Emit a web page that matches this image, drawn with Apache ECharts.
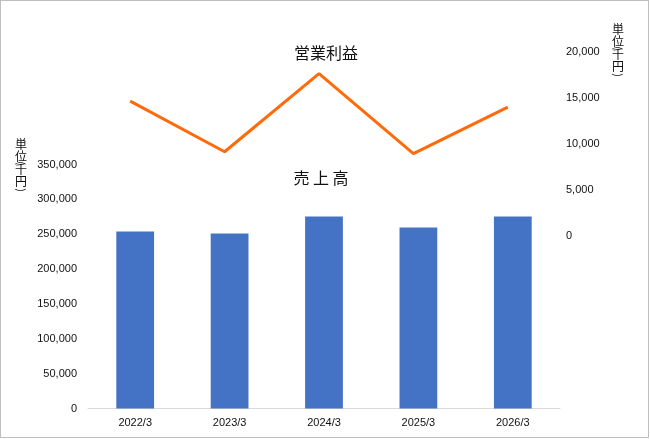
<!DOCTYPE html>
<html>
<head>
<meta charset="utf-8">
<script src="https://cdn.jsdelivr.net/npm/echarts@6/dist/echarts.min.js"></script>
<style>
html,body{margin:0;padding:0;background:#fff;}
#c{width:647px;height:436px;border:1px solid #bfbfbf;}
</style>
</head>
<body>
<div id="c"></div>
<script>
var categories = ['2022/3', '2023/3', '2024/3', '2025/3', '2026/3'];
var salesValues = [254000, 251000, 275500, 259500, 275500];
var profitValues = [14600, 9100, 17600, 8900, 13950];
var salesTicks = {min: 0, max: 350000, interval: 50000};
var profitTicks = {min: 0, max: 20000, interval: 5000};
var unitLabel = ['単', '位', '(', '千', '円', ')'];

var labelFont = {fontFamily: 'Liberation Sans, Arial, sans-serif', fontSize: 11, color: '#111'};
var cjk = 'Noto Sans CJK JP, sans-serif';
function fmt(v){ return v.toLocaleString('en-US'); }

// vertical unit label: offsets of each glyph centre from first glyph centre
var glyphOffsets = [0, 12, 19, 25, 37, 46];
function verticalUnit(cx, cy0) {
  return unitLabel.map(function (ch, i) {
    var isParen = (ch === '(' || ch === ')');
    return {
      type: 'text', x: cx, y: cy0 + glyphOffsets[i],
      rotation: isParen ? -Math.PI / 2 : 0,
      style: {text: ch, x: 0, y: 0, align: 'center', verticalAlign: 'middle',
              font: (isParen ? '11px ' : '12px ') + cjk, fill: '#111'}
    };
  });
}

var chart = echarts.init(document.getElementById('c'), null, {renderer: 'canvas'});
chart.setOption({
  animation: false,
  backgroundColor: '#fff',
  grid: [
    {left: 87, top: 163.5, width: 472, height: 244},
    {left: 82, top: 50.5, width: 472, height: 184}
  ],
  xAxis: [
    {type: 'category', gridIndex: 0, data: categories,
     axisLine: {lineStyle: {color: '#d9d9d9', width: 1}},
     axisTick: {show: false},
     axisLabel: Object.assign({margin: 9}, labelFont)},
    {type: 'category', gridIndex: 1, data: categories, show: false}
  ],
  yAxis: [
    {type: 'value', gridIndex: 0, min: salesTicks.min, max: salesTicks.max, interval: salesTicks.interval,
     splitLine: {show: false}, axisLine: {show: false}, axisTick: {show: false},
     axisLabel: Object.assign({margin: 11, formatter: fmt}, labelFont)},
    {type: 'value', gridIndex: 1, position: 'right', min: profitTicks.min, max: profitTicks.max, interval: profitTicks.interval,
     splitLine: {show: false}, axisLine: {show: false}, axisTick: {show: false},
     axisLabel: Object.assign({margin: 11, formatter: fmt}, labelFont)}
  ],
  series: [
    {type: 'bar', name: '売上高', xAxisIndex: 0, yAxisIndex: 0, data: salesValues,
     barWidth: '40%', itemStyle: {color: '#4472C4'}},
    {type: 'line', name: '営業利益', xAxisIndex: 1, yAxisIndex: 1, data: profitValues,
     symbol: 'none', lineStyle: {color: '#FF6A0A', width: 3}, itemStyle: {color: '#FF6A0A'}}
  ],
  graphic: [
    {type: 'text', style: {text: '営業利益', x: 325, y: 52, align: 'center', verticalAlign: 'middle', font: '16px ' + cjk, fill: '#111'}},
    {type: 'text', style: {text: '売 上 高', x: 320, y: 177, align: 'center', verticalAlign: 'middle', font: '16px ' + cjk, fill: '#111'}}
  ].concat(verticalUnit(20, 143), verticalUnit(617, 28))
});
</script>
</body>
</html>
